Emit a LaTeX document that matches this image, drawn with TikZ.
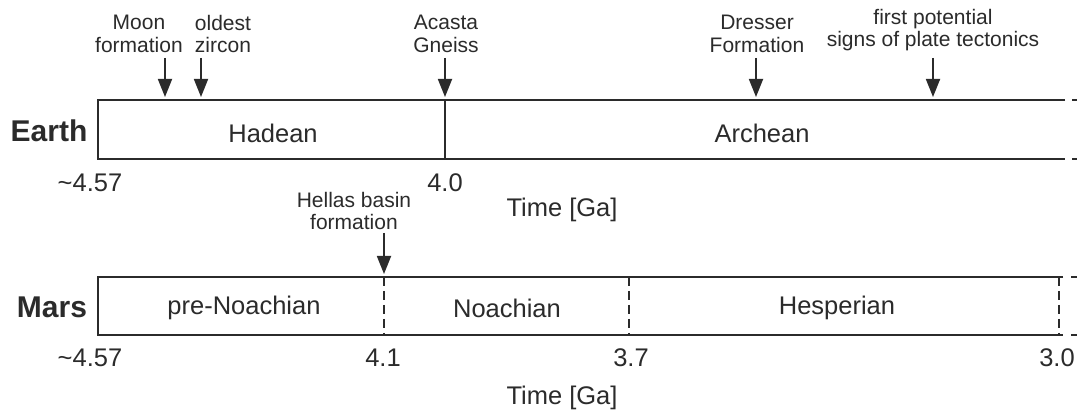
\documentclass[tikz,border=0pt]{standalone}
\usepackage{fontspec}
\setmainfont{Liberation Sans}
\usetikzlibrary{arrows.meta}
\definecolor{ink}{HTML}{2B2B2B}
\begin{document}
\begin{tikzpicture}[x=1pt,y=-1pt,
  every node/.style={text=ink, inner sep=0pt},
  boxline/.style={draw=ink, line width=2pt},
  eradiv/.style={draw=ink, line width=1.8pt},
  dashdiv/.style={draw=ink, line width=1.8pt, dash pattern=on 9pt off 5pt},
  marker/.style={draw=ink, line width=1.8pt, -{Triangle[length=18pt,width=14pt]}},
  eventlbl/.style={font=\fontsize{21}{22.5}\selectfont, align=center},
  era/.style={font=\fontsize{25.5}{28}\selectfont},
  agelbl/.style={font=\fontsize{25.5}{28}\selectfont},
  planet/.style={font=\fontsize{30}{32}\selectfont\bfseries}]
\useasboundingbox (0,0) rectangle (1077,411);
\fill[white] (0,0) rectangle (1077,411);

% ---------------- Earth timeline ----------------
\draw[boxline] (1065,100) -- (98,100) -- (98,159) -- (1065,159);
\draw[boxline] (1072,100) -- (1077,100);
\draw[boxline] (1072,159) -- (1077,159);
\coordinate (eDivTop) at (445,100);
\coordinate (eDivBot) at (445,159);
\draw[eradiv] (eDivTop) -- (eDivBot);

\node[planet] (earth) at (49,131) {Earth};
\node[era] (hadean) at (273,133) {Hadean};
\node[era] (archean) at (762,133) {Archean};
\node[agelbl] (e457) at (90,183) {\textasciitilde4.57};
\node[agelbl] (e40) at (445,183) {4.0};
\node[agelbl] (etime) at (562,210) {Time [Ga]};

% events on Earth
\node[eventlbl] (moon) at (139,34) {Moon\\formation};
\node[eventlbl] (zircon) at (223,34) {oldest\\zircon};
\node[eventlbl] (acasta) at (446,34) {Acasta\\Gneiss};
\node[eventlbl] (dresser) at (757,34) {Dresser\\Formation};
\node[eventlbl] (plate) at (933,30) {first potential\\signs of plate tectonics};

\coordinate (moonS) at (165,58);    \coordinate (moonT) at (165,97);
\coordinate (zirconS) at (201,58);  \coordinate (zirconT) at (201,97);
\coordinate (acastaS) at (445,58);  \coordinate (acastaT) at (445,97);
\coordinate (dresserS) at (756,58); \coordinate (dresserT) at (756,97);
\coordinate (plateS) at (933,58);   \coordinate (plateT) at (933,97);
\draw[marker] (moonS) -- (moonT);
\draw[marker] (zirconS) -- (zirconT);
\draw[marker] (acastaS) -- (acastaT);
\draw[marker] (dresserS) -- (dresserT);
\draw[marker] (plateS) -- (plateT);

% ---------------- Mars timeline ----------------
\draw[boxline] (1063,277) -- (98,277) -- (98,335) -- (1063,335);
\draw[boxline] (1071,277) -- (1077,277);
\draw[boxline] (1071,335) -- (1077,335);
\coordinate (mDivA) at (384,277); \coordinate (mDivAb) at (384,335);
\coordinate (mDivB) at (629,277); \coordinate (mDivBb) at (629,335);
\coordinate (mDivC) at (1059,277); \coordinate (mDivCb) at (1059,335);
\draw[dashdiv] (mDivA) -- (mDivAb);
\draw[dashdiv] (mDivB) -- (mDivBb);
\draw[dashdiv] (mDivC) -- (mDivCb);

\node[planet] (mars) at (52,307) {Mars};
\node[era] (prenoach) at (244,308) {pre-Noachian};
\node[era] (noach) at (507,308) {Noachian};
\node[era] (hesp) at (837,308) {Hesperian};
\node[agelbl] (m457) at (90,358) {\textasciitilde4.57};
\node[agelbl] (m41) at (383,358) {4.1};
\node[agelbl] (m37) at (631,358) {3.7};
\node[agelbl] (m30) at (1057,358) {3.0};
\node[agelbl] (mtime) at (562,398) {Time [Ga]};

% event on Mars
\node[eventlbl] (hellas) at (354,211) {Hellas basin\\formation};
\coordinate (hellasS) at (384,233); \coordinate (hellasT) at (384,274);
\draw[marker] (hellasS) -- (hellasT);
\end{tikzpicture}
\end{document}
